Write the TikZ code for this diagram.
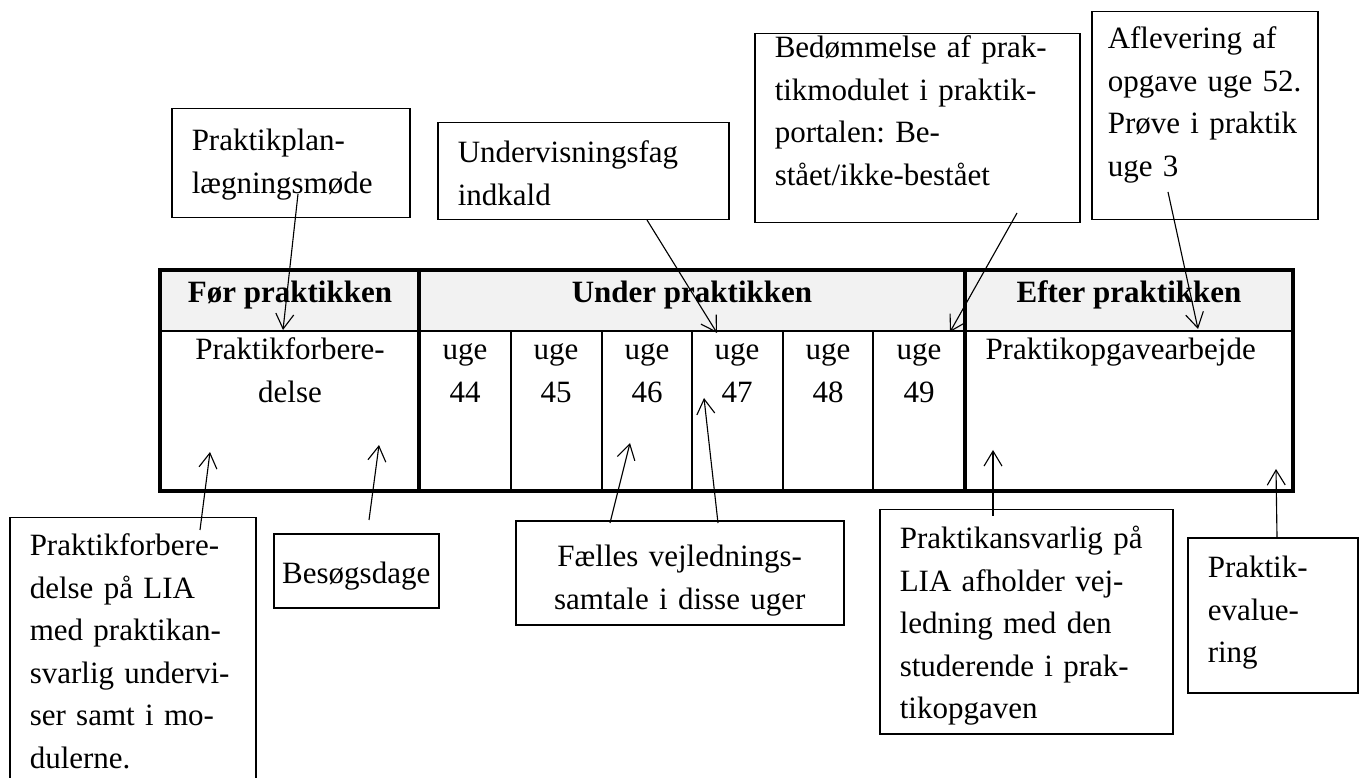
\documentclass[tikz,border=0pt]{standalone}
\usepackage{fontspec}
\setmainfont{Liberation Serif}
\usetikzlibrary{arrows.meta}
\frenchspacing

\newdimen\px \px=0.4pt
\newcommand\boxfont{\fontsize{12.4}{17}\selectfont}
\definecolor{headgray}{HTML}{F2F2F2}

\tikzset{
  callout/.style={draw, line width=0.6pt, anchor=north west, inner ysep=0pt, inner xsep=20\px, align=left, font=\boxfont},
  cell/.style={inner sep=0pt, anchor=base, align=center, font=\boxfont},
  head/.style={inner sep=0pt, anchor=base, font=\boxfont\bfseries},
  arr/.style={->, line width=0.45pt},
}

\begin{document}
\begin{tikzpicture}[x=1\px, y=-1\px, >={Straight Barb[length=6pt,width=7.2pt]}]
  \useasboundingbox (0,0) rectangle (1359,778);

  % table
  \fill[headgray] (160,270) rectangle (1293,331);
  \draw[line width=0.8pt] (160,331) -- (1293,331);
  \foreach \x in {511,602,692,783,873}
    \draw[line width=0.8pt] (\x,331) -- (\x,491);
  \draw[line width=1.4pt] (419,270) -- (419,491);
  \draw[line width=1.4pt] (965,270) -- (965,491);
  \draw[line width=1.6pt] (160,270) rectangle (1293,491);

  \node[head] (hfor) at (290,303) {Før praktikken};
  \node[head] (hunder) at (692,303) {Under praktikken};
  \node[head] (hefter) at (1129,303) {Efter praktikken};

  \node[cell, text width=230\px] (forb) at (290,360) {Praktikforbere-\\delse};
  \foreach \n/\x in {44/465,45/556,46/647,47/737,48/828,49/919}
    \node[cell, text width=80\px] (u\n) at (\x,360) {uge\\\n};
  \node[cell, anchor=base west] (opg) at (985,360) {Praktikopgavearbejde};

  % callouts above
  \node[callout, text width=198\px, text height=42\px, text depth=67\px] (plan) at (171,108) {Praktikplan-\\lægningsmøde};
  \node[callout, text width=251\px, text height=40\px, text depth=57\px] (under) at (437,122) {Undervisningsfag\\indkald};
  \node[callout, text width=285\px, text height=24\px, text depth=165\px] (bed) at (754,33) {Bedømmelse af prak-\\tikmodulet i praktik-\\portalen: Be-\\stået/ikke-bestået};
  \node[callout, inner xsep=16\px, text width=194\px, text height=37\px, text depth=171\px] (afl) at (1091,11) {Aflevering af\\opgave uge 52.\\Prøve i praktik\\uge 3};

  % callouts below
  \node[callout, text width=206\px, text height=38\px, text depth=242\px] (lia) at (9,517) {Praktikforbere-\\delse på LIA\\med praktikan-\\svarlig undervi-\\ser samt i mo-\\dulerne.};
  \node[callout, align=center, inner xsep=8\px, text width=149\px, text height=50\px, text depth=24\px] (bes) at (273,533) {Besøgsdage};
  \node[callout, align=center, text width=288\px, text height=46\px, text depth=58\px] (fael) at (515,520) {Fælles vejlednings-\\samtale i disse uger};
  \node[callout, text width=253\px, text height=39\px, text depth=185\px] (ans) at (879,509) {Praktikansvarlig på\\LIA afholder vej-\\ledning med den\\studerende i prak-\\tikopgaven};
  \node[callout, text width=130\px, text height=40\px, text depth=115\px] (eval) at (1187,537) {Praktik-\\evalue-\\ring};

  % arrow ends
  \coordinate (plan-a) at (298,194);  \coordinate (plan-b) at (283,330);
  \coordinate (under-a) at (647,220); \coordinate (under-b) at (717,333);
  \coordinate (bed-a) at (1017,213);  \coordinate (bed-b) at (950,332);
  \coordinate (afl-a) at (1168,192);  \coordinate (afl-b) at (1198,329);
  \coordinate (lia-a) at (200,530);   \coordinate (lia-b) at (210,452);
  \coordinate (bes-a) at (369,520);   \coordinate (bes-b) at (379,445);
  \coordinate (fael-a) at (610,523);  \coordinate (fael-b) at (630,443);
  \coordinate (fael-c) at (718,523);  \coordinate (fael-d) at (704,398);
  \coordinate (ans-a) at (993,516);   \coordinate (ans-b) at (993,450);
  \coordinate (eval-a) at (1277,537); \coordinate (eval-b) at (1276,469);

  \draw[arr] (plan-a) -- (plan-b);
  \draw[arr] (under-a) -- (under-b);
  \draw[arr] (bed-a) -- (bed-b);
  \draw[arr] (afl-a) -- (afl-b);
  \draw[arr] (lia-a) -- (lia-b);
  \draw[arr] (bes-a) -- (bes-b);
  \draw[arr] (fael-a) -- (fael-b);
  \draw[arr] (fael-c) -- (fael-d);
  \draw[arr] (ans-a) -- (ans-b);
  \draw[arr] (eval-a) -- (eval-b);
\end{tikzpicture}
\end{document}
